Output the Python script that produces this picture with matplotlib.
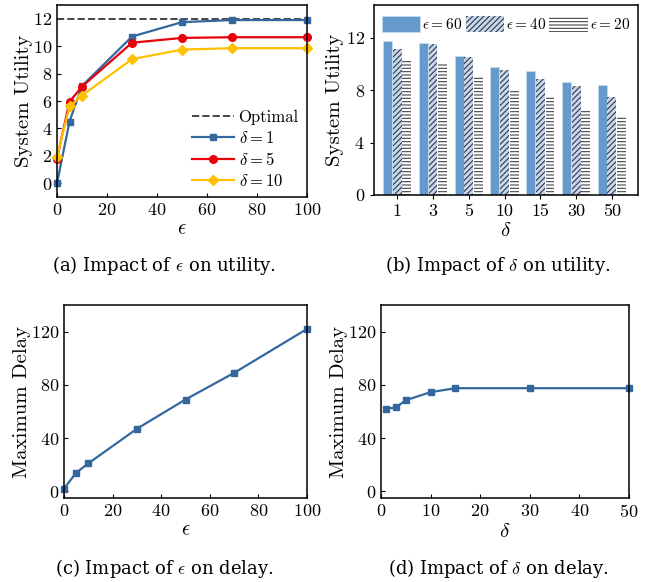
import numpy as np
import matplotlib
matplotlib.use("Agg")
import matplotlib.pyplot as plt

plt.rcParams["font.family"] = "cmr10"
plt.rcParams["mathtext.fontset"] = "cm"
plt.rcParams["axes.formatter.use_mathtext"] = True
plt.rcParams["hatch.linewidth"] = 0.8
plt.rcParams["axes.linewidth"] = 1.1

BLUE = "#33689e"
RED = "#e8000b"
GOLD = "#ffc000"

# (a) utility vs epsilon
eps = [0, 5, 10, 30, 50, 70, 100]
optimal = 11.95
util_d1 = [0.0, 4.5, 7.1, 10.7, 11.75, 11.9, 11.9]
util_d5 = [1.8, 5.95, 7.05, 10.25, 10.6, 10.65, 10.65]
util_d10 = [1.95, 5.6, 6.4, 9.05, 9.75, 9.85, 9.85]

# (b) utility vs delta (bars)
delta_cats = ["1", "3", "5", "10", "15", "30", "50"]
bar_e60 = [11.75, 11.6, 10.6, 9.8, 9.5, 8.6, 8.4]
bar_e40 = [11.15, 11.5, 10.5, 9.55, 8.85, 8.35, 7.45]
bar_e20 = [10.35, 10.0, 9.05, 8.0, 7.5, 6.55, 6.0]

# (c) delay vs epsilon
delay_eps = [2, 14, 21, 47, 69, 89, 122]

# (d) delay vs delta
delta_vals = [1, 3, 5, 10, 15, 30, 50]
delay_delta = [62, 63, 68.5, 74.5, 77.5, 77.5, 77.5]

fig = plt.figure(figsize=(6.52, 5.82), dpi=100)
W, H = 652.0, 582.0


def box(l, t, r, b):
    return [l / W, 1 - b / H, (r - l) / W, (b - t) / H]


tick_fs = 13
label_fs = 15

# ---- (a)
ax = fig.add_axes(box(57, 5, 307, 197))
ax.axhline(optimal, color="#444444", ls="--", lw=1.4, label="Optimal")
ax.plot(eps, util_d1, color=BLUE, marker="s", ms=5, lw=1.6, clip_on=False, label=r"$\delta=1$")
ax.plot(eps, util_d5, color=RED, marker="o", ms=5.5, lw=1.6, clip_on=False, label=r"$\delta=5$")
ax.plot(eps, util_d10, color=GOLD, marker="D", ms=5, lw=1.6, clip_on=False, label=r"$\delta=10$")
ax.set_xlim(0, 100)
ax.set_ylim(-1, 13)
ax.set_xticks([0, 20, 40, 60, 80, 100])
ax.set_yticks([0, 2, 4, 6, 8, 10, 12])
ax.tick_params(direction="in", labelsize=tick_fs, length=3)
ax.set_xlabel(r"$\epsilon$", fontsize=label_fs, labelpad=2)
ax.set_ylabel("System Utility", fontsize=label_fs, labelpad=0)
ax.legend(loc="lower right", frameon=False, fontsize=12, handlelength=2.5,
          handletextpad=0.3, labelspacing=0.3, borderaxespad=0.1)

# ---- (b)
ax = fig.add_axes(box(374, 5, 638, 195))
x = np.arange(len(delta_cats))
w = 0.25
ax.bar(x - 0.27, bar_e60, w, color="#6699cc", edgecolor="#c6dbef", lw=0.6,
       label=r"$\epsilon=60$")
ax.bar(x, bar_e40, w, color="#c6d9ec", edgecolor="#333844", lw=0, hatch="//////",
       label=r"$\epsilon=40$")
ax.bar(x + 0.27, bar_e20, w, color="white", edgecolor="#444444", lw=0, hatch="-----",
       label=r"$\epsilon=20$")
ax.set_xticks(x)
ax.set_xticklabels(delta_cats)
ax.set_xlim(-0.65, 6.73)
ax.set_ylim(0, 14.5)
ax.set_yticks([0, 4, 8, 12])
ax.tick_params(direction="out", labelsize=tick_fs, length=3)
ax.set_xlabel(r"$\delta$", fontsize=label_fs, labelpad=2)
ax.set_ylabel("System Utility", fontsize=label_fs, labelpad=1)
ax.legend(loc="upper center", ncol=3, frameon=False, fontsize=11, handlelength=2.5,
          handleheight=1.25, handletextpad=0.15, columnspacing=0.2, borderaxespad=0.3)

# ---- (c)
ax = fig.add_axes(box(64, 305, 307, 498))
ax.plot(eps, delay_eps, color=BLUE, marker="s", ms=5, lw=1.6, clip_on=False)
ax.set_xlim(0, 100)
ax.set_ylim(-5, 140)
ax.set_xticks([0, 20, 40, 60, 80, 100])
ax.set_yticks([0, 40, 80, 120])
ax.tick_params(direction="in", labelsize=tick_fs, length=3)
ax.set_xlabel(r"$\epsilon$", fontsize=label_fs, labelpad=2)
ax.set_ylabel("Maximum Delay", fontsize=label_fs, labelpad=0)

# ---- (d)
ax = fig.add_axes(box(381, 305, 629, 498))
ax.plot(delta_vals, delay_delta, color=BLUE, marker="s", ms=5, lw=1.6, clip_on=False)
ax.set_xlim(0, 50)
ax.set_ylim(-5, 140)
ax.set_xticks([0, 10, 20, 30, 40, 50])
ax.set_yticks([0, 40, 80, 120])
ax.tick_params(direction="in", labelsize=tick_fs, length=3)
ax.set_xlabel(r"$\delta$", fontsize=label_fs, labelpad=2)
ax.set_ylabel("Maximum Delay", fontsize=label_fs, labelpad=0)

# captions
cap = dict(fontsize=13, family="DejaVu Serif", ha="center", va="center")
fig.text(164 / W, 1 - 266 / H, r"(a) Impact of $\epsilon$ on utility.", **cap)
fig.text(498 / W, 1 - 266 / H, r"(b) Impact of $\delta$ on utility.", **cap)
fig.text(164 / W, 1 - 568 / H, r"(c) Impact of $\epsilon$ on delay.", **cap)
fig.text(498 / W, 1 - 568 / H, r"(d) Impact of $\delta$ on delay.", **cap)

fig.savefig("out.png", dpi=100)
